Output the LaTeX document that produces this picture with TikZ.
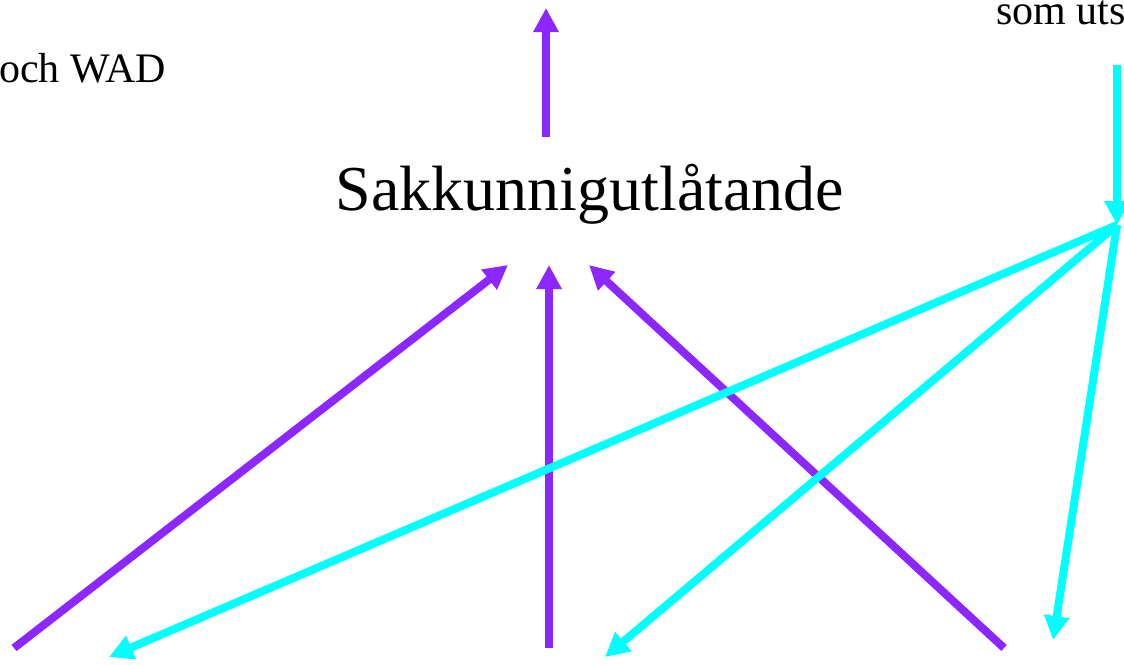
\documentclass[tikz,border=0pt]{standalone}
\usepackage{fontspec}
\setmainfont{Liberation Serif}
\usetikzlibrary{arrows.meta,positioning}
\definecolor{lila}{RGB}{140,40,255}
\definecolor{turkos}{RGB}{0,255,255}

\begin{document}
\begin{tikzpicture}[x=1pt, y=-1pt,
        label/.style={inner sep=0pt, font=\fontsize{42}{46}\selectfont},
        title/.style={inner sep=0pt, font=\fontsize{64}{70}\selectfont},
        arrow/.style={-{Triangle[length=24pt, width=24pt]}, line width=8pt, lila},
        back/.style={-{Triangle[length=24pt, width=24pt]}, line width=8pt, turkos}
    ]
        \useasboundingbox (0,0) rectangle (1124,664);

        % Texter
        \node[title, anchor=base] (sak) at (590,210) {Sakkunnigutlåtande};
        \node[label, anchor=base east] (wad) at (166,82) {och WAD};
        \node[label, anchor=base west] (uts) at (996,24) {som uts};

        % Punkter
        \coordinate (upp0) at (546,137);
        \coordinate (upp1) at (546,8);
        \coordinate (in1) at (508,265);
        \coordinate (in2) at (549,265);
        \coordinate (in3) at (589,265);
        \coordinate (b1) at (14,648);
        \coordinate (b2) at (549,648);
        \coordinate (b3) at (1004,648);
        \coordinate (hub0) at (1117,65);
        \coordinate (hub) at (1117,225);
        \coordinate (c1) at (109,657);
        \coordinate (c2) at (605,657);
        \coordinate (c3) at (1053,640);

        % Lila pilar
        \draw[arrow] (upp0) -- (upp1);
        \draw[arrow] (b1) -- (in1);
        \draw[arrow] (b2) -- (in2);
        \draw[arrow] (b3) -- (in3);

        % Turkosa pilar
        \draw[back] (hub0) -- (hub);
        \draw[back] (hub) -- (c1);
        \draw[back] (hub) -- (c2);
        \draw[back] (hub) -- (c3);
    \end{tikzpicture}
\end{document}
